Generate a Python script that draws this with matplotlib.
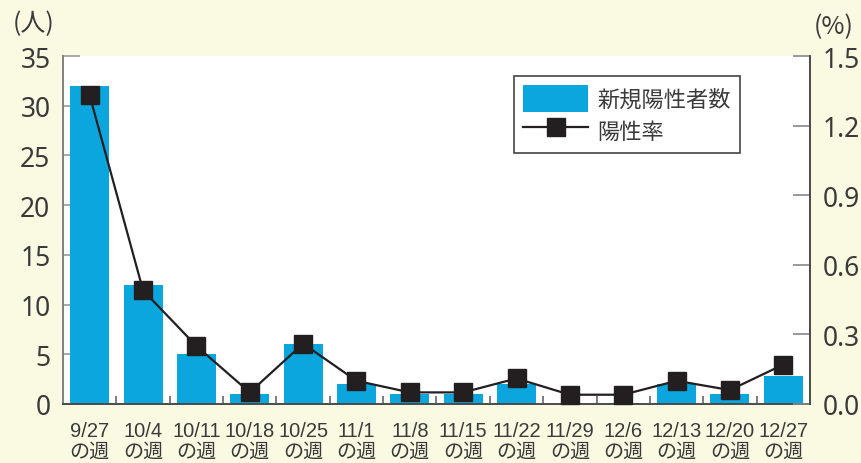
import matplotlib
matplotlib.use("Agg")
import matplotlib.pyplot as plt
import matplotlib.transforms as mtransforms
from matplotlib.patches import Patch
from matplotlib.lines import Line2D

# ---- data ----
weeks = ["9/27", "10/4", "10/11", "10/18", "10/25", "11/1", "11/8",
         "11/15", "11/22", "11/29", "12/6", "12/13", "12/20", "12/27"]
week_suffix = "の週"
new_positive = [32, 12, 5, 1, 6, 2, 1, 1, 2, 0, 0, 2, 1, 2.8]
positive_rate = [1.33, 0.49, 0.25, 0.05, 0.26, 0.10, 0.05,
                 0.05, 0.11, 0.04, 0.04, 0.10, 0.06, 0.17]
left_ticks = [0, 5, 10, 15, 20, 25, 30, 35]
right_ticks = [0.0, 0.3, 0.6, 0.9, 1.2, 1.5]
right_ticklabels = ["0.0", "0.3", "0.6", "0.9", "1.2", "1.5"]
label_bar = "新規陽性者数"
label_line = "陽性率"
left_unit = "(人)"
right_unit = "(%)"

BG = "#fafae3"
BAR = "#0aa6dd"
DARK = "#231f20"
TXT = "#3a3a3a"
CJK = ["Noto Sans CJK JP", "DejaVu Sans"]
NUM = ["Noto Sans", "DejaVu Sans"]
DATEF = ["Liberation Sans", "DejaVu Sans"]

fig = plt.figure(figsize=(8.61, 4.64), dpi=100, facecolor=BG)
W, H = 861, 464
ax = fig.add_axes([63 / W, 1 - 405 / H, (810 - 63) / W, (405 - 57) / H])
ax.set_facecolor("white")
ax.set_axisbelow(True)

x = list(range(len(weeks)))
ax.bar(x, new_positive, width=0.73, color=BAR, zorder=2)
ax.set_xlim(-0.5, len(weeks) - 0.5)
ax.set_ylim(0, 35)
ax.set_yticks(left_ticks)
ax.tick_params(axis="y", direction="in", length=12, width=1.2, color="#999999",
               pad=9, labelsize=19, labelcolor=TXT)
for lab in ax.get_yticklabels():
    lab.set_family(NUM)

ax.set_xticks(x)
ax.set_xticklabels(weeks, family=DATEF, fontsize=14.5, color=TXT)
ax.tick_params(axis="x", which="major", length=0, pad=12)
ax.set_xticks([i + 0.5 for i in x[:-1]], minor=True)
ax.tick_params(axis="x", which="minor", direction="in", length=6, width=1.2,
               color="#666666")

ax.spines["top"].set_visible(False)
ax.spines["left"].set_color("#808080")
ax.spines["left"].set_linewidth(1.4)
ax.spines["bottom"].set_color("#4a4a4a")
ax.spines["bottom"].set_linewidth(1.4)
ax.spines["right"].set_visible(False)

ax2 = ax.twinx()
ax2.plot(x, positive_rate, color=DARK, lw=1.6, marker="s", markersize=13,
         markerfacecolor=DARK, markeredgecolor=DARK, zorder=5, clip_on=False)
ax2.set_ylim(0, 1.5)
ax2.set_yticks(right_ticks)
ax2.set_yticklabels(right_ticklabels, family=NUM, fontsize=19, color=TXT)
ax2.tick_params(axis="y", direction="in", length=12, width=1.2, color="#888888",
                pad=9)
ax2.spines["top"].set_visible(False)
ax2.spines["left"].set_visible(False)
ax2.spines["bottom"].set_visible(False)
ax2.spines["right"].set_color("#4a4a4a")
ax2.spines["right"].set_linewidth(1.4)

# suffix line under each date
trans = mtransforms.blended_transform_factory(ax.transData, fig.transFigure)
for i in x:
    ax.text(i, 1 - 458 / H, week_suffix, transform=trans, ha="center",
            va="baseline", family=CJK, fontsize=14.5, color=TXT, clip_on=False)

# unit labels
fig.text(34 / W, 1 - 24 / H, left_unit, ha="center", va="center",
         family=CJK, fontsize=18, color=TXT)
fig.text(834 / W, 1 - 27 / H, right_unit, ha="center", va="center",
         family=CJK, fontsize=18, color=TXT)

handles = [Patch(facecolor=BAR, edgecolor="none"),
           Line2D([0], [0], color=DARK, lw=1.6, marker="s", markersize=13,
                  markerfacecolor=DARK, markeredgecolor=DARK)]
leg = ax2.legend(handles, [label_bar, label_line], loc="upper left",
                 bbox_to_anchor=((514 - 63) / 747, (405 - 77) / 348),
                 borderaxespad=0, fancybox=False, framealpha=1,
                 edgecolor="#444444", prop={"family": CJK, "size": 16},
                 handlelength=2.95, handleheight=1.5, handletextpad=0.4,
                 labelspacing=0.22, borderpad=0.4, labelcolor=TXT)
leg.get_frame().set_linewidth(1.2)
leg.set_zorder(10)

fig.savefig("out.png", dpi=100, facecolor=BG)
